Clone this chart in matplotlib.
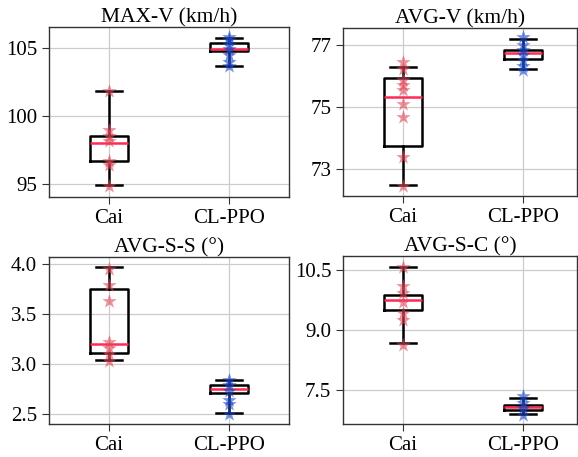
import matplotlib
matplotlib.use("Agg")
from matplotlib import pyplot as plt

plt.rcParams['font.family'] = ['Liberation Serif', 'DejaVu Serif']
plt.rcParams['font.size'] = 15

labels = ['Cai', 'CL-PPO']
titles = ['MAX-V (km/h)', 'AVG-V (km/h)', 'AVG-S-S (°)', 'AVG-S-C (°)']

# box stats: (whislo, q1, med, q3, whishi)
max_v_cai = (94.95, 96.7, 98.0, 98.5, 101.85)
max_v_cl = (103.7, 104.78, 104.9, 105.34, 105.71)
avg_v_cai = (72.5, 73.75, 75.32, 75.93, 76.29)
avg_v_cl = (76.21, 76.53, 76.72, 76.83, 77.18)
avg_ss_cai = (3.043, 3.106, 3.198, 3.743, 3.964)
avg_ss_cl = (2.505, 2.706, 2.752, 2.785, 2.835)
avg_sc_cai = (8.68, 9.51, 9.75, 9.885, 10.58)
avg_sc_cl = (6.92, 7.0, 7.075, 7.125, 7.31)

# individual runs (stars)
max_v_cai_pts = [101.85, 98.99, 98.5, 98.13, 96.71, 96.37, 94.83]
max_v_cl_pts = [105.8, 105.6, 105.25, 104.9, 104.5, 104.0, 103.65]
avg_v_cai_pts = [76.45, 76.2, 75.85, 75.7, 75.55, 75.1, 74.68, 73.38, 72.45]
avg_v_cl_pts = [77.25, 77.0, 76.83, 76.67, 76.5, 76.3, 76.17]
avg_ss_cai_pts = [3.95, 3.785, 3.63, 3.22, 3.16, 3.10, 3.03]
avg_ss_cl_pts = [2.84, 2.79, 2.73, 2.64, 2.60, 2.50]
avg_sc_cai_pts = [10.57, 10.12, 9.93, 9.70, 9.43, 9.27, 8.64]
avg_sc_cl_pts = [7.35, 7.18, 7.06, 6.89]

yticks = [[95, 100, 105], [73, 75, 77], [2.5, 3.0, 3.5, 4.0], [7.5, 9.0, 10.5]]
yticklabels = [['95', '100', '105'], ['73', '75', '77'],
               ['2.5', '3.0', '3.5', '4.0'], ['7.5', '9.0', '10.5']]
ylims = [(94.04, 106.54), (72.14, 77.53), (2.40, 4.066), (6.66, 10.857)]
xlims = [(0.5, 2.5), (0.5, 2.45), (0.5, 2.5), (0.5, 2.45)]

boxes = [(max_v_cai, max_v_cl), (avg_v_cai, avg_v_cl),
         (avg_ss_cai, avg_ss_cl), (avg_sc_cai, avg_sc_cl)]
points = [(max_v_cai_pts, max_v_cl_pts), (avg_v_cai_pts, avg_v_cl_pts),
          (avg_ss_cai_pts, avg_ss_cl_pts), (avg_sc_cai_pts, avg_sc_cl_pts)]

# axes rectangles in pixels (left, top, right, bottom)
W, H = 578, 457
rects = [(49, 27, 289, 197), (343, 28, 577, 196),
         (49, 257, 289, 424), (343, 256, 577, 424)]

fig = plt.figure(figsize=(W / 100, H / 100), dpi=100)
for i in range(4):
    l, t, r, b = rects[i]
    ax = fig.add_axes([l / W, 1 - b / H, (r - l) / W, (b - t) / H])
    ax.grid(True, color='#cccccc', linewidth=0.9)
    ax.set_axisbelow(True)

    stats = []
    for k in range(2):
        lo, q1, med, q3, hi = boxes[i][k]
        stats.append(dict(whislo=lo, q1=q1, med=med, q3=q3, whishi=hi,
                          fliers=[], label=labels[k]))
    ax.bxp(stats, positions=[1, 2], widths=0.31, capwidths=0.22,
           showfliers=False,
           boxprops=dict(color='black', linewidth=1.8),
           whiskerprops=dict(color='black', linewidth=1.8),
           capprops=dict(color='black', linewidth=1.8),
           medianprops=dict(color='#ff2a55', linewidth=1.8))

    # stars on top of the boxes, semi transparent
    pt_colors = ['#e04656', '#1a46c8']
    for k in range(2):
        ys = points[i][k]
        ax.scatter([k + 1] * len(ys), ys, marker='*', s=120,
                   color=pt_colors[k], alpha=0.6, linewidths=0, zorder=3)

    ax.set_xlim(*xlims[i])
    ax.set_ylim(*ylims[i])
    ax.set_yticks(yticks[i])
    ax.set_yticklabels(yticklabels[i])
    ax.set_xticks([1, 2])
    ax.set_xticklabels(labels)
    ax.set_title(titles[i], fontsize=15.5, pad=3)
    for sp in ax.spines.values():
        sp.set_color('#333333')
        sp.set_linewidth(1.0)
    ax.tick_params(length=5, width=0.8, color='#333333', labelsize=15)

fig.savefig('out.png', dpi=100)
